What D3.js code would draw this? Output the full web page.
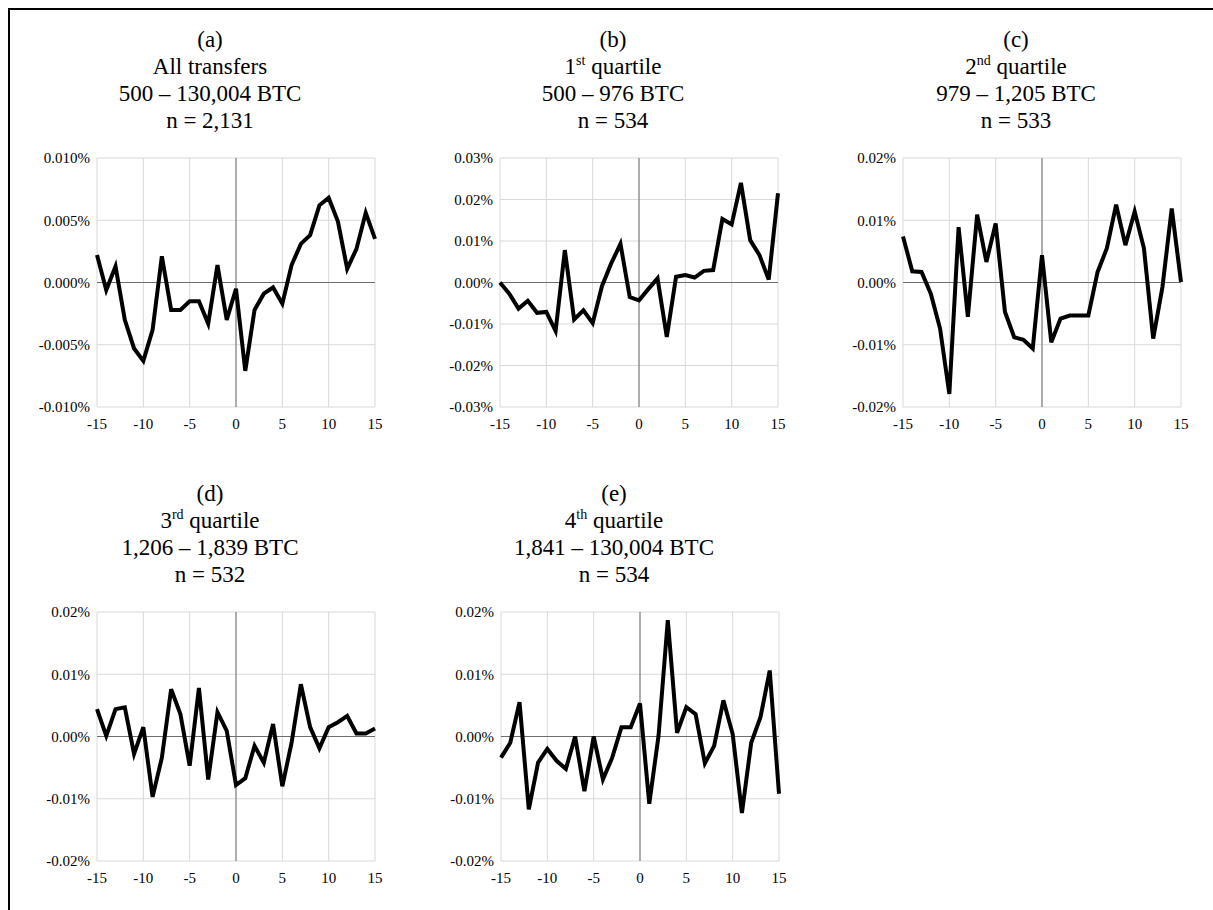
<!DOCTYPE html>
<html>
<head>
<meta charset="utf-8">
<script src="https://cdn.jsdelivr.net/npm/d3@7"></script>
<style>
  body { margin: 0; background: #fff; }
  svg { display: block; }
</style>
</head>
<body>
<div id="chart"></div>
<script>
// days relative to the transfer
var lags = [-15,-14,-13,-12,-11,-10,-9,-8,-7,-6,-5,-4,-3,-2,-1,0,1,2,3,4,5,6,7,8,9,10,11,12,13,14,15];
var xTicks = [-15, -10, -5, 0, 5, 10, 15];

// mean returns in percent
var valsAll = [0.0022,-0.0006,0.0013,-0.0030,-0.0053,-0.0063,-0.0038,0.0021,-0.0022,-0.0022,-0.0015,-0.0015,-0.0033,0.0014,-0.0030,-0.0005,
               -0.0071,-0.0022,-0.0009,-0.0004,-0.0017,0.0014,0.0031,0.0038,0.0062,0.0068,0.0049,0.0011,0.0027,0.0056,0.0035];
var valsQ1 = [0.0000,-0.0027,-0.0063,-0.0044,-0.0073,-0.0071,-0.0117,0.0078,-0.0089,-0.0067,-0.0098,-0.0009,0.0046,0.0093,-0.0035,-0.0043,
              -0.0016,0.0010,-0.0131,0.0014,0.0018,0.0012,0.0028,0.0030,0.0153,0.0140,0.0240,0.0102,0.0066,0.0007,0.0215];
var valsQ2 = [0.0074,0.0018,0.0017,-0.0018,-0.0074,-0.0179,0.0089,-0.0055,0.0109,0.0033,0.0095,-0.0047,-0.0088,-0.0092,-0.0106,0.0044,
              -0.0096,-0.0058,-0.0053,-0.0053,-0.0053,0.0017,0.0055,0.0125,0.0060,0.0114,0.0055,-0.0090,-0.0007,0.0119,0.0001];
var valsQ3 = [0.0044,0.0001,0.0044,0.0047,-0.0028,0.0015,-0.0097,-0.0034,0.0076,0.0036,-0.0047,0.0078,-0.0069,0.0039,0.0009,-0.0078,
              -0.0067,-0.0015,-0.0042,0.0020,-0.0080,-0.0010,0.0084,0.0015,-0.0019,0.0015,0.0023,0.0033,0.0005,0.0005,0.0013];
var valsQ4 = [-0.0034,-0.0010,0.0055,-0.0117,-0.0042,-0.0020,-0.0039,-0.0052,0.0000,-0.0088,0.0000,-0.0069,-0.0034,0.0015,0.0015,0.0053,
              -0.0108,0.0001,0.0187,0.0006,0.0047,0.0036,-0.0043,-0.0015,0.0058,0.0004,-0.0123,-0.0010,0.0031,0.0106,-0.0092];

var yTicksA = [-0.010, -0.005, 0, 0.005, 0.010];
var yTicksB = [-0.03, -0.02, -0.01, 0, 0.01, 0.02, 0.03];
var yTicksC = [-0.02, -0.01, 0, 0.01, 0.02];

// title lines; "^xx" marks a superscript ending at the next space
var titleA = ["(a)", "All transfers", "500 – 130,004 BTC", "n = 2,131"];
var titleB = ["(b)", "1^st quartile", "500 – 976 BTC", "n = 534"];
var titleC = ["(c)", "2^nd quartile", "979 – 1,205 BTC", "n = 533"];
var titleD = ["(d)", "3^rd quartile", "1,206 – 1,839 BTC", "n = 532"];
var titleE = ["(e)", "4^th quartile", "1,841 – 130,004 BTC", "n = 534"];

var W = 1213, H = 910;
var plotW = 278, plotH = 249;
var serif = "'Liberation Serif', 'Times New Roman', Times, 'DejaVu Serif', serif";

var panels = [
  {title: titleA, values: valsAll, ticks: yTicksA, dec: 3, x: 97,  y: 158},
  {title: titleB, values: valsQ1,  ticks: yTicksB, dec: 2, x: 500, y: 158},
  {title: titleC, values: valsQ2,  ticks: yTicksC, dec: 2, x: 903, y: 158},
  {title: titleD, values: valsQ3,  ticks: yTicksC, dec: 2, x: 97,  y: 612},
  {title: titleE, values: valsQ4,  ticks: yTicksC, dec: 2, x: 501, y: 612}
];

var loc = d3.formatLocale({decimal: ".", thousands: ",", grouping: [3], currency: ["", ""], minus: "-"});

var svg = d3.select("#chart").append("svg")
    .attr("width", W)
    .attr("height", H)
    .attr("font-family", serif);

// frame (top and left edges only are inside the picture)
svg.append("path")
    .attr("d", "M9,910 L9,9 L1213,9")
    .attr("fill", "none")
    .attr("stroke", "#000")
    .attr("stroke-width", 2);

panels.forEach(function(p) {
  var g = svg.append("g").attr("transform", "translate(" + p.x + "," + p.y + ")");
  var ext = d3.extent(p.ticks);

  var x = d3.scaleLinear().domain([-15, 15]).range([0, plotW]);
  var y = d3.scaleLinear().domain(ext).range([plotH, 0]);
  var fmt = loc.format("." + p.dec + "f");

  // gridlines
  g.selectAll(".vg").data(xTicks).enter().append("line")
      .attr("x1", function(d) { return x(d); }).attr("x2", function(d) { return x(d); })
      .attr("y1", 0).attr("y2", plotH)
      .attr("stroke", "#d9d9d9").attr("stroke-width", 1);
  g.selectAll(".hg").data(p.ticks).enter().append("line")
      .attr("y1", function(d) { return y(d); }).attr("y2", function(d) { return y(d); })
      .attr("x1", 0).attr("x2", plotW)
      .attr("stroke", "#d9d9d9").attr("stroke-width", 1);

  // axis lines crossing at zero
  g.append("line").attr("x1", 0).attr("x2", plotW).attr("y1", y(0)).attr("y2", y(0))
      .attr("stroke", "#6e6e6e").attr("stroke-width", 1);
  g.append("line").attr("x1", x(0)).attr("x2", x(0)).attr("y1", 0).attr("y2", plotH)
      .attr("stroke", "#6e6e6e").attr("stroke-width", 1);

  // tick labels
  g.selectAll(".yl").data(p.ticks).enter().append("text")
      .attr("x", -7)
      .attr("y", function(d) { return y(d); })
      .attr("dy", "0.35em")
      .attr("text-anchor", "end")
      .attr("font-family", serif)
      .attr("font-size", 15)
      .text(function(d) { return fmt(d) + "%"; });
  g.selectAll(".xl").data(xTicks).enter().append("text")
      .attr("x", function(d) { return x(d); })
      .attr("y", plotH + 22)
      .attr("text-anchor", "middle")
      .attr("font-family", serif)
      .attr("font-size", 15)
      .text(function(d) { return loc.format("d")(d); });

  // series line
  var line = d3.line()
      .x(function(d, i) { return x(lags[i]); })
      .y(function(d) { return y(d); });
  g.append("path")
      .datum(p.values)
      .attr("d", line)
      .attr("fill", "none")
      .attr("stroke", "#000")
      .attr("stroke-width", 4)
      .attr("stroke-linejoin", "miter")
      .attr("stroke-miterlimit", 4);

  // title, centred over labels + plot
  var cx = (plotW - 52) / 2;
  p.title.forEach(function(s, i) {
    var t = g.append("text")
        .attr("x", cx)
        .attr("y", -111 + i * 27)
        .attr("text-anchor", "middle")
        .attr("font-family", serif)
        .attr("font-size", 23);
    var m = s.match(/^(.*?)\^(\S+)(.*)$/);
    if (m) {
      t.append("tspan").text(m[1]);
      t.append("tspan").attr("dy", -9).attr("font-size", 14).text(m[2]);
      t.append("tspan").attr("dy", 9).text(m[3]);
    } else {
      t.text(s);
    }
  });
});
</script>
</body>
</html>
